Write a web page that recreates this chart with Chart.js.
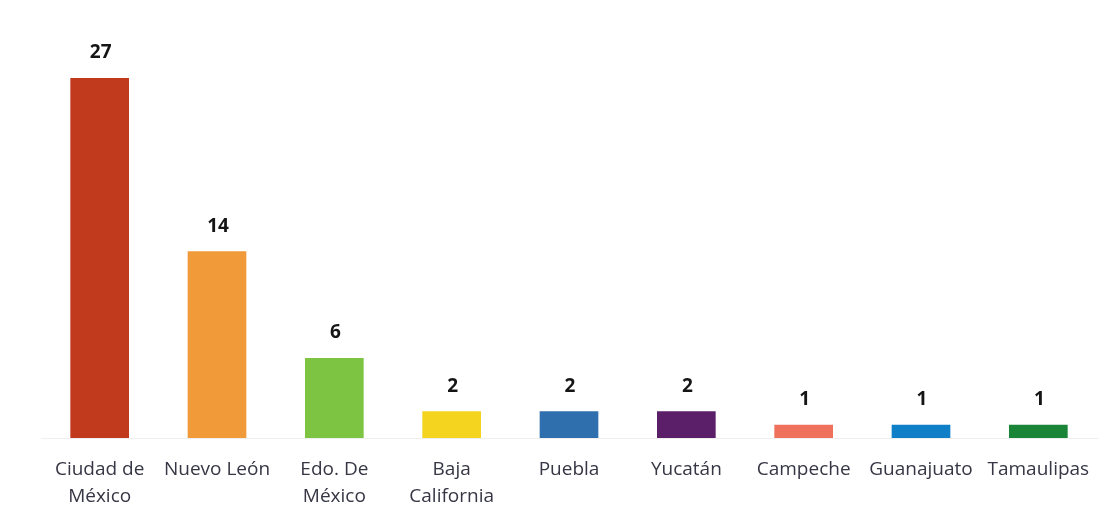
<!DOCTYPE html>
<html>
<head>
<meta charset="utf-8">
<script src="https://cdn.jsdelivr.net/npm/chart.js@4"></script>
<style>
  html, body { margin: 0; padding: 0; background: #fff; }
  #wrap { width: 1109px; height: 521px; position: relative; }
</style>
</head>
<body>
<div id="wrap"><canvas id="chartEstados"></canvas></div>
<script>
const estados = [
  ["Ciudad de", "México"],
  "Nuevo León",
  ["Edo. De", "México"],
  ["Baja", "California"],
  "Puebla",
  "Yucatán",
  "Campeche",
  "Guanajuato",
  "Tamaulipas"
];
const totales = [27, 14, 6, 2, 2, 2, 1, 1, 1];
const colores = [
  "#c13a1d", "#f09a3a", "#7ec443", "#f4d41f", "#2f6fae",
  "#5b1f6a", "#ef705b", "#0f7fc8", "#1a8437"
];

// etiquetas con el valor arriba de cada barra
const valorArriba = {
  id: 'valorArriba',
  afterDatasetsDraw(chart) {
    const ctx = chart.ctx;
    const meta = chart.getDatasetMeta(0);
    ctx.save();
    ctx.font = "bold 19px 'Open Sans', Lato, sans-serif";
    ctx.fillStyle = "#151515";
    ctx.textAlign = "center";
    ctx.textBaseline = "middle";
    meta.data.forEach(function(bar, i) {
      ctx.fillText(totales[i], bar.x + 1, bar.y - 25);
    });
    ctx.restore();
  }
};

let ctx = document.getElementById("chartEstados");
let miGrafica = new Chart(ctx, {
  type: 'bar',
  data: {
    labels: estados,
    datasets: [{
      data: totales,
      backgroundColor: colores,
      barPercentage: 0.5,
      categoryPercentage: 1
    }]
  },
  options: {
    responsive: true,
    maintainAspectRatio: false,
    animation: false,
    layout: { padding: { left: 41, right: 12, top: 38, bottom: 0 } },
    plugins: {
      legend: { display: false },
      tooltip: { enabled: false }
    },
    scales: {
      y: {
        display: false,
        min: 0,
        max: 30
      },
      x: {
        afterFit(scale) { scale.height = 83; },
        grid: { display: false, drawTicks: false },
        border: { display: true, color: "#efefef" },
        ticks: {
          color: "#363645",
          padding: 18,
          maxRotation: 0,
          autoSkip: false,
          font: { family: "'Open Sans', Lato, sans-serif", size: 19, lineHeight: 1.42 }
        }
      }
    }
  },
  plugins: [valorArriba]
});
</script>
</body>
</html>
